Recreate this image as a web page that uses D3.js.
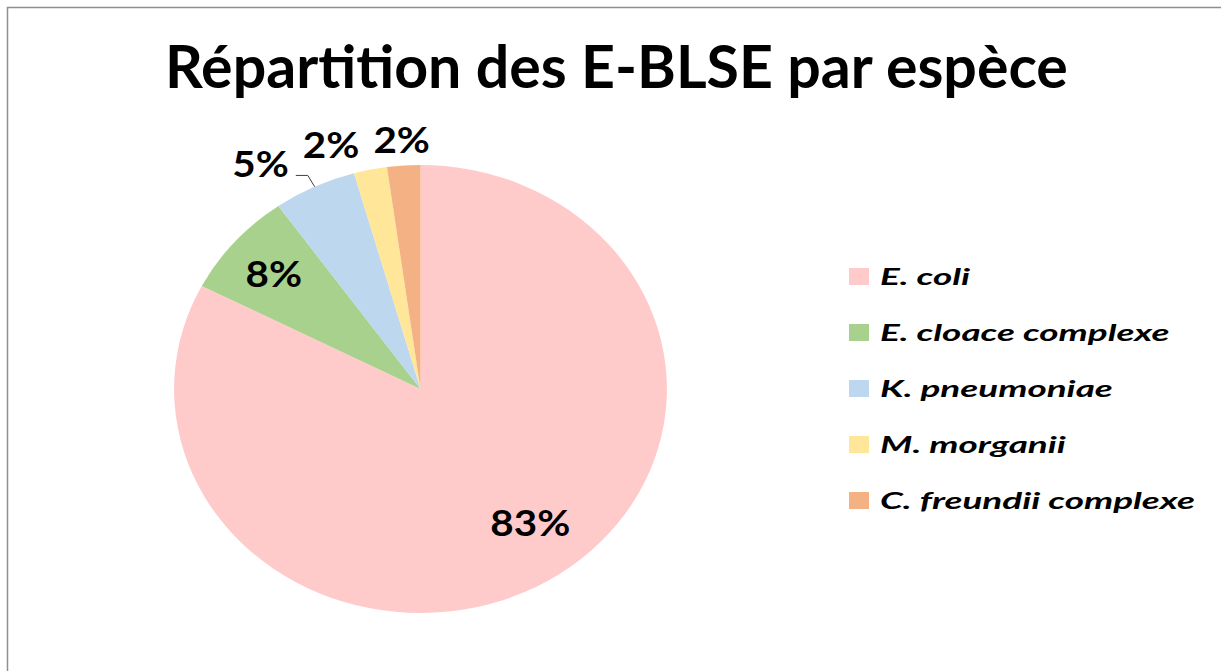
<!DOCTYPE html>
<html lang="fr">
<head>
<meta charset="UTF-8">
<title>Répartition des E-BLSE par espèce</title>
<script src="https://d3js.org/d3.v7.min.js"></script>
<style>
    body { margin: 0; background: #fff; }
    svg { display: block; }
    text { font-family: Lato, "Open Sans", sans-serif; font-weight: 700; fill: #000; }
</style>
</head>
<body>
<svg width="1221" height="671"></svg>
<script>
    // données
    const title = "Répartition des E-BLSE par espèce";
    const categories = ["E. coli", "E. cloace complexe", "K. pneumoniae", "M. morganii", "C. freundii complexe"];
    const counts = [76, 7, 5, 2, 2];
    const colors = ["#FFCACA", "#A9D18E", "#BDD7EE", "#FFE699", "#F4B183"];

    const svg = d3.select("svg");
    const W = 1221, H = 671;

    // cadre gris
    svg.append("rect")
        .attr("x", 7.5).attr("y", 7.5)
        .attr("width", W).attr("height", H)
        .attr("fill", "#fff")
        .attr("stroke", "#8f8f8f")
        .attr("stroke-width", 1.5);

    // facteur d'étirement horizontal pour atteindre une largeur voulue
    function fit(sel, target) {
        const w = sel.node().getComputedTextLength();
        return target / w;
    }

    // titre
    const t = svg.append("text")
        .attr("text-anchor", "middle")
        .attr("font-size", 60)
        .text(title);
    const ts = fit(t, 903);
    t.attr("transform", `translate(616.5,88) scale(${ts},1)`);

    // camembert (légèrement étiré en largeur comme l'original)
    const cx = 420.5, cy = 389, R = 224, sx = 1.1;
    const total = d3.sum(counts);
    const pie = d3.pie().sort(null).value(d => d)(counts);
    const arc = d3.arc().innerRadius(0).outerRadius(R);

    const g = svg.append("g").attr("transform", `translate(${cx},${cy}) scale(${sx},1)`);
    g.selectAll("path")
        .data(pie)
        .join("path")
        .attr("d", arc)
        .attr("fill", (d, i) => colors[i]);

    // position d'un point (angle, rayon) dans le repère de la page
    const pt = (a, r) => [cx + sx * r * Math.sin(a), cy - r * Math.cos(a)];
    const mid = d => (d.startAngle + d.endAngle) / 2;

    const labels = pie.map((d, i) => {
        const pct = Math.round(d.value / total * 100) + "%";
        const inside = d.endAngle - d.startAngle > 0.4;
        const r = inside ? (i === 0 ? 0.74 * R : 0.79 * R) : 1.12 * R;
        const a = i === 0 ? mid(d) - 0.1 : mid(d);
        const [x, y] = pt(a, r);
        return { i, d, pct, inside, x, y };
    });

    const lab = svg.append("g");
    labels.forEach(l => {
        l.node = lab.append("text")
            .attr("text-anchor", "middle")
            .attr("dominant-baseline", "central")
            .attr("font-size", 37)
            .text(l.pct);
    });
    const ls = fit(labels[0].node, 80);
    labels.forEach(l => { l.w = l.node.node().getComputedTextLength() * ls; });

    // étiquettes extérieures : on décale vers la gauche en cas de chevauchement
    const outs = labels.filter(l => !l.inside);
    for (let k = outs.length - 2; k >= 0; k--) {
        const a = outs[k], b = outs[k + 1];
        const maxX = b.x - b.w / 2 - 14 - a.w / 2;
        if (a.x > maxX) a.x = maxX;
    }
    labels.forEach(l => {
        l.node.attr("transform", `translate(${l.x},${l.y}) scale(${ls},1)`);
    });

    // trait de rappel quand l'étiquette est loin de sa part
    outs.forEach(l => {
        const [ex, ey] = pt(mid(l.d), R);
        const bx0 = l.x - l.w / 2, bx1 = l.x + l.w / 2;
        const by0 = l.y - 14, by1 = l.y + 14;
        const dx = Math.max(bx0 - ex, 0, ex - bx1);
        const dy = Math.max(by0 - ey, 0, ey - by1);
        if (Math.hypot(dx, dy) > 24) {
            const lx = bx1 + 7, ly = l.y + 13;
            svg.append("path")
                .attr("d", `M${lx},${ly}H${lx + 12}L${ex},${ey}`)
                .attr("fill", "none")
                .attr("stroke", "#404040")
                .attr("stroke-width", 1);
        }
    });

    // légende
    const leg = svg.append("g").attr("transform", "translate(849,276.5)");
    const rows = leg.selectAll("g")
        .data(categories)
        .join("g")
        .attr("transform", (d, i) => `translate(0,${i * 56})`);
    rows.append("rect")
        .attr("x", 0).attr("y", -8.5)
        .attr("width", 20).attr("height", 17)
        .attr("fill", (d, i) => colors[i]);
    const lt = rows.append("text")
        .attr("font-size", 22)
        .attr("font-style", "italic")
        .attr("dominant-baseline", "central")
        .text(d => d);
    const ws = fit(d3.select(lt.nodes()[4]), 315);
    lt.attr("transform", `translate(31,0) scale(${ws},1)`);
</script>
</body>
</html>
